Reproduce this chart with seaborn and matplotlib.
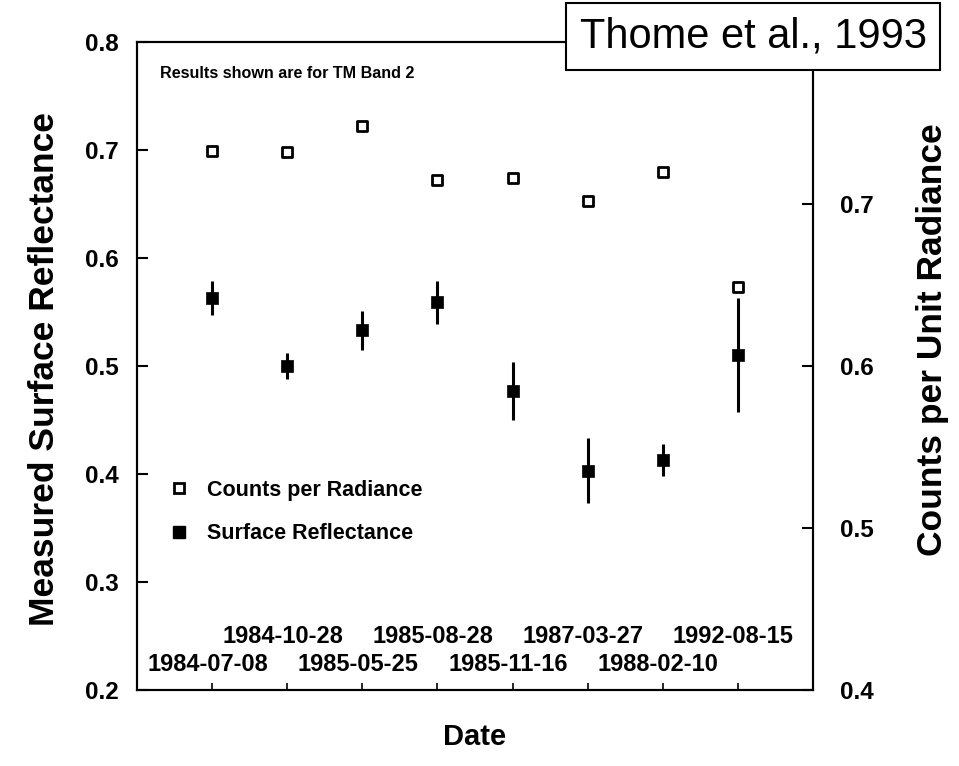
import matplotlib
matplotlib.use("Agg")
import matplotlib.pyplot as plt
from matplotlib.lines import Line2D
from matplotlib.transforms import blended_transform_factory
import seaborn as sns
import pandas as pd

# ---- data ----
dates = ["1984-07-08", "1984-10-28", "1985-05-25", "1985-08-28",
         "1985-11-16", "1987-03-27", "1988-02-10", "1992-08-15"]
reflectance = [0.563, 0.500, 0.533, 0.559, 0.477, 0.403, 0.413, 0.510]
reflectance_err = [0.016, 0.012, 0.018, 0.020, 0.027, 0.030, 0.015, 0.053]
counts_per_radiance = [0.733, 0.732, 0.748, 0.715, 0.716, 0.702, 0.720, 0.649]
left_ticks = [0.2, 0.3, 0.4, 0.5, 0.6, 0.7, 0.8]
right_ticks = [0.4, 0.5, 0.6, 0.7]

df = pd.DataFrame({
    "pos": list(range(len(dates))),
    "date": dates,
    "refl": reflectance,
    "err": reflectance_err,
    "counts": counts_per_radiance,
})

sns.set_style("ticks")
plt.rcParams["font.family"] = ["Liberation Sans", "DejaVu Sans"]
plt.rcParams["text.color"] = "black"
plt.rcParams["axes.labelcolor"] = "black"
plt.rcParams["xtick.color"] = "black"
plt.rcParams["ytick.color"] = "black"
plt.rcParams["axes.edgecolor"] = "black"

fig = plt.figure(figsize=(9.59, 7.66), dpi=100)
ax = fig.add_axes([0.1429, 0.0992, 0.7048, 0.8460])
ax2 = ax.twinx()

# error bars + filled squares (left axis)
ax.errorbar(df["pos"], df["refl"], yerr=df["err"], fmt="none",
            ecolor="black", elinewidth=2.2, capsize=0, zorder=2)
sns.scatterplot(data=df, x="pos", y="refl", ax=ax, marker="s", s=70,
                color="black", edgecolor="black", linewidth=0.5,
                legend=False, zorder=3)
# open squares (right axis)
sns.scatterplot(data=df, x="pos", y="counts", ax=ax2, marker="s", s=60,
                facecolor="white", edgecolor="black", linewidth=2.0,
                legend=False, zorder=3)

ax.set_xlim(-1.0, 8.0)
ax.set_ylim(0.2, 0.8)
ax2.set_ylim(0.4, 0.8)

ax.set_xticks(df["pos"])
ax.set_xticklabels([])
ax.set_yticks(left_ticks)
ax.set_yticklabels([f"{v:.1f}" for v in left_ticks])
ax2.set_yticks(right_ticks)
ax2.set_yticklabels([f"{v:.1f}" for v in right_ticks])

for a in (ax, ax2):
    for sp in a.spines.values():
        sp.set_linewidth(1.5)
        sp.set_color("black")
ax.tick_params(axis="y", direction="in", length=8, width=1.5, pad=13,
               labelsize=17.5)
ax.tick_params(axis="x", direction="in", length=5, width=1.2)
ax2.tick_params(axis="y", direction="in", length=8, width=1.5, pad=19.5,
                labelsize=17.5)
for lab in ax.get_yticklabels() + ax2.get_yticklabels():
    lab.set_fontweight("bold")

ax.set_xlabel("Date", fontsize=21, fontweight="bold", labelpad=20)
ax.set_ylabel("Measured Surface Reflectance", fontsize=25.5,
              fontweight="bold")
ax.yaxis.set_label_coords(-0.113, 0.495)
ax2.set_ylabel("Counts per Unit Radiance", fontsize=25.5,
               fontweight="bold", rotation=90)
ax2.yaxis.set_label_coords(1.153, 0.54)

# staggered date labels inside the axes
trans = blended_transform_factory(ax.transData, ax.transAxes)
for i, d in enumerate(dates):
    yfrac = 0.040 if i % 2 == 0 else 0.082
    ax.text(i - 0.06, yfrac, d, transform=trans, ha="center", va="center",
            fontsize=17, fontweight="bold")

ax.text(0.034, 0.952, "Results shown are for TM Band 2",
        transform=ax.transAxes, ha="left", va="center", fontsize=11.6,
        fontweight="bold")

handles = [
    Line2D([], [], marker="s", linestyle="none", markersize=7.5,
           markerfacecolor="white", markeredgecolor="black",
           markeredgewidth=2.0),
    Line2D([], [], marker="s", linestyle="none", markersize=8,
           markerfacecolor="black", markeredgecolor="black"),
]
ax2.legend(handles, ["Counts per Radiance", "Surface Reflectance"],
           loc="center left", bbox_to_anchor=(0.046, 0.2747),
           frameon=False, handlelength=1.0,
           handletextpad=0.8, labelspacing=1.05, borderpad=0,
           borderaxespad=0, prop={"weight": "bold", "size": 15.5})

fig.text(0.7855, 0.952, "Thome et al., 1993", ha="center", va="center",
         fontsize=30,
         bbox=dict(boxstyle="square,pad=0.32", facecolor="white",
                   edgecolor="black", linewidth=1.5))

fig.savefig("out.png", dpi=100)
